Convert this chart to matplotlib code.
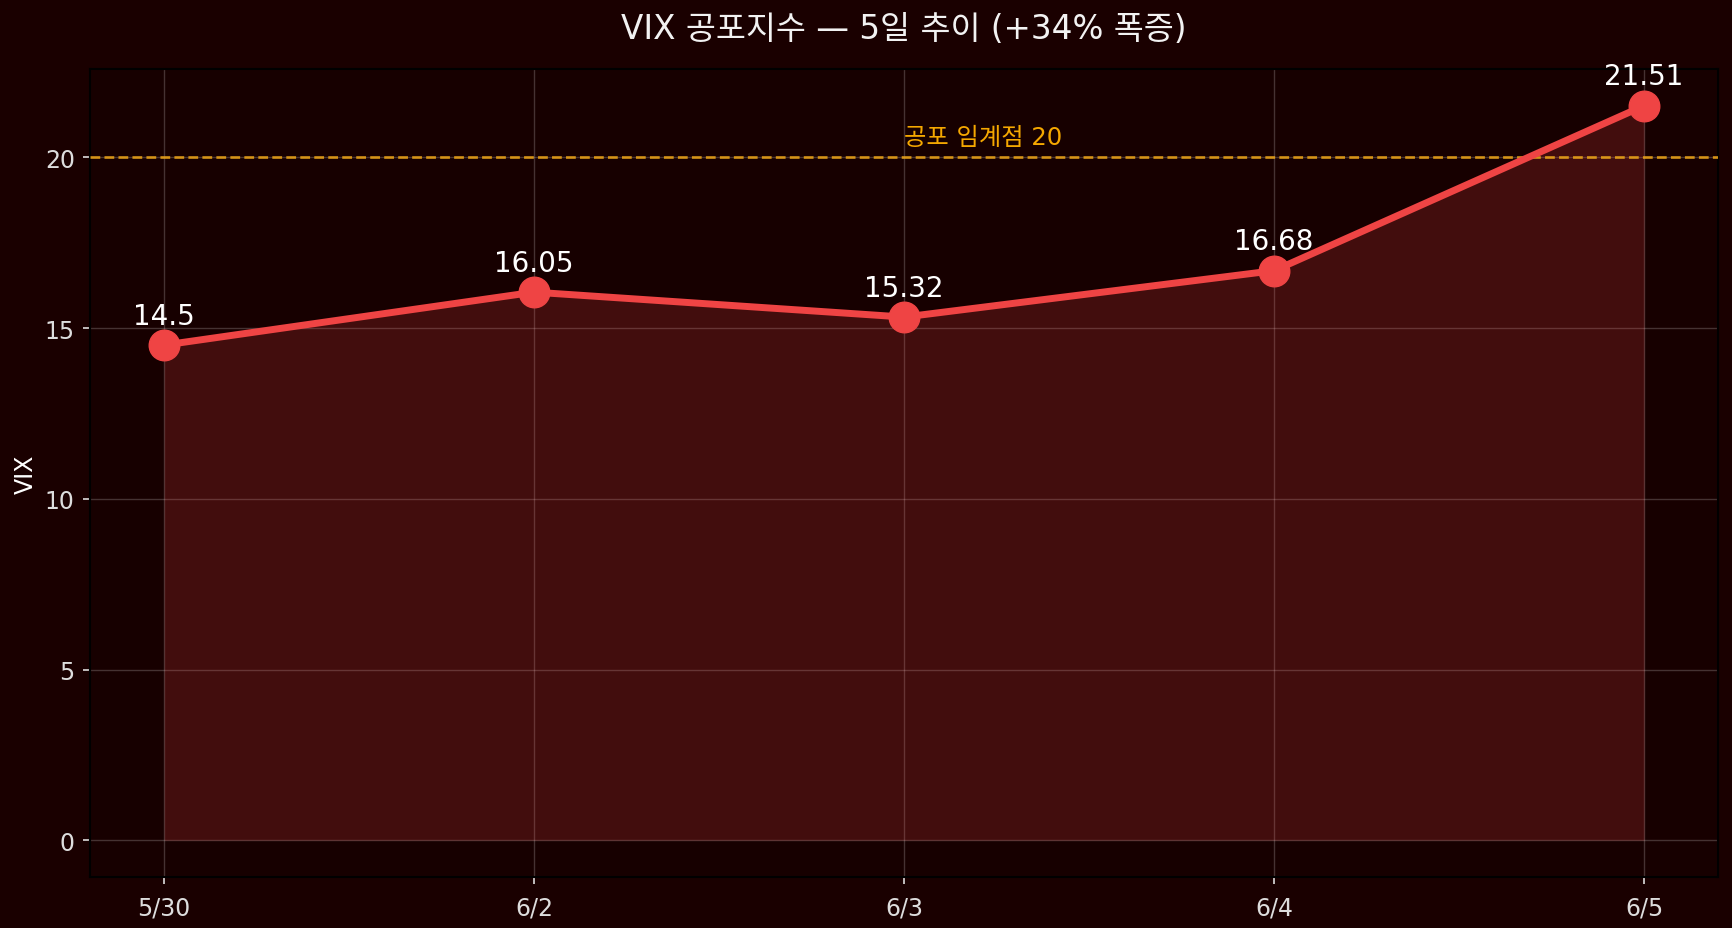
import matplotlib
matplotlib.use("Agg")
import matplotlib.pyplot as plt
import numpy as np

dates = ['5/30', '6/2', '6/3', '6/4', '6/5']
vix = [14.5, 16.05, 15.32, 16.68, 21.51]
threshold = 20
threshold_label = '공포 임계점 20'
title = 'VIX 공포지수 — 5일 추이 (+34% 폭증)'
ylabel = 'VIX'

plt.rcParams['font.family'] = ['DejaVu Sans', 'Noto Sans CJK KR']

BG = '#1a0000'
AXBG = '#170000'
RED = '#ef4444'

fig = plt.figure(figsize=(17.32, 9.29), dpi=100, facecolor=BG)
ax = fig.add_axes([0.0520, 0.0549, 0.9400, 0.8698], facecolor=AXBG)

x = np.arange(len(dates))
ax.fill_between(x, vix, 0, color=RED, alpha=0.2, linewidth=0)
ax.plot(x, vix, color=RED, linewidth=5, marker='o', markersize=22, zorder=4)
ax.axhline(threshold, color='#e6a017', linestyle='--', linewidth=1.9, alpha=0.9, zorder=3)
ax.text(2, threshold + 0.25, threshold_label, color='#f5a800', fontsize=17.5,
        ha='left', va='bottom')

for xi, v in zip(x, vix):
    ax.annotate(f'{v:g}', (xi, v), xytext=(0, 11), textcoords='offset points',
                ha='center', va='bottom', color='white', fontsize=20, zorder=5)

ax.set_xticks(x)
ax.set_xticklabels(dates)
ax.grid(True, color='white', alpha=0.2, linewidth=1)
ax.set_axisbelow(True)
ax.tick_params(colors='#dddddd', labelsize=17, length=5, width=1.2)
ax.tick_params(axis='x', pad=8)
ax.tick_params(axis='y', pad=6)
for s in ax.spines.values():
    s.set_color('black')
    s.set_linewidth(1.5)
ax.set_ylabel(ylabel, color='white', fontsize=17, labelpad=5)
ax.set_title(title, color='#f2f2f2', fontsize=23.5, pad=22)

fig.savefig('out.png', dpi=100, facecolor=BG)
